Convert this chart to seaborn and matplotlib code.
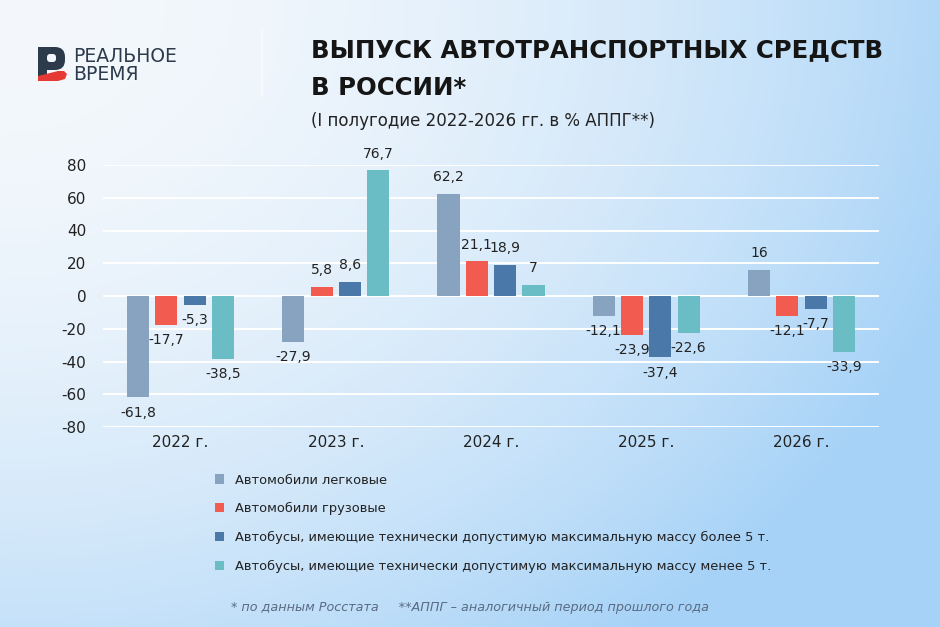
import numpy as np
import pandas as pd
import seaborn as sns
import matplotlib.pyplot as plt
from matplotlib.patches import Patch, Rectangle, FancyBboxPatch, Polygon

years = ["2022 г.", "2023 г.", "2024 г.", "2025 г.", "2026 г."]
cars = [-61.8, -27.9, 62.2, -12.1, 16]
trucks = [-17.7, 5.8, 21.1, -23.9, -12.1]
buses_big = [-5.3, 8.6, 18.9, -37.4, -7.7]
buses_small = [-38.5, 76.7, 7, -22.6, -33.9]

series = ["Автомобили легковые",
          "Автомобили грузовые",
          "Автобусы, имеющие технически допустимую максимальную массу более 5 т.",
          "Автобусы, имеющие технически допустимую максимальную массу менее 5 т."]
colors = ["#87A3BF", "#F25C50", "#4A78A8", "#6ABDC5"]

df = pd.DataFrame({
    "year": years * 4,
    "value": cars + trucks + buses_big + buses_small,
    "series": [s for s in series for _ in years],
})

sns.set_theme(style="white")
plt.rcParams["font.family"] = ["DejaVu Sans"]
plt.rcParams["axes.unicode_minus"] = False

W, H = 940, 627
fig = plt.figure(figsize=(W / 100, H / 100), dpi=100)

# background gradient
bg = fig.add_axes([0, 0, 1, 1], zorder=-10)
gx, gy = np.meshgrid(np.linspace(0, 1, 300), np.linspace(0, 1, 200))
t = np.clip(0.85 * gx ** 2 + 0.59 * gy ** 2, 0, 1)
c0 = np.array([0xF4, 0xF8, 0xFC]) / 255
c1 = np.array([0xA6, 0xD2, 0xF7]) / 255
img = c0[None, None, :] * (1 - t[..., None]) + c1[None, None, :] * t[..., None]
bg.imshow(img, aspect="auto", extent=[0, W, H, 0])
bg.set_xlim(0, W)
bg.set_ylim(H, 0)
bg.axis("off")

ax = fig.add_axes([103 / W, 1 - 427 / H, (879 - 103) / W, (427 - 165) / H])
ax.patch.set_alpha(0)

sns.barplot(data=df, x="year", y="value", hue="series", palette=colors,
            saturation=1, width=0.73, gap=0.22, linewidth=0,
            legend=False, ax=ax, zorder=3)

for cont in ax.containers:
    for bar in cont:
        v = bar.get_height()
        txt = f"{v:g}".replace(".", ",")
        x = bar.get_x() + bar.get_width() / 2
        if v >= 0:
            ax.annotate(txt, (x, v), xytext=(0, 7), textcoords="offset points",
                        ha="center", va="bottom", fontsize=10, color="#222222")
        else:
            ax.annotate(txt, (x, v), xytext=(0, -6), textcoords="offset points",
                        ha="center", va="top", fontsize=10, color="#222222")

ax.set_ylim(-80, 80)
ax.set_xlim(-0.5, 4.5)
ax.set_yticks(range(-80, 81, 20))
ax.yaxis.grid(True, color="white", linewidth=1.4, zorder=0)
ax.set_axisbelow(True)
for s in ax.spines.values():
    s.set_visible(False)
ax.tick_params(axis="both", length=0, labelsize=11, labelcolor="#222222")
ax.tick_params(axis="y", pad=12)
ax.tick_params(axis="x", pad=6)
ax.set_xlabel("")
ax.set_ylabel("")

handles = [Patch(facecolor=c, edgecolor="none", label=s) for c, s in zip(colors, series)]
fig.legend(handles=handles, loc="upper left", bbox_to_anchor=(208 / W, 1 - 467 / H),
           frameon=False, fontsize=9.4, handlelength=0.7, handleheight=0.7,
           handletextpad=0.9, labelspacing=1.2, borderpad=0, labelcolor="#222222")

# titles
fig.text(311 / W, 1 - 50 / H, "ВЫПУСК АВТОТРАНСПОРТНЫХ СРЕДСТВ", fontsize=17.6,
         fontweight="bold", color="#151515", va="center", ha="left")
fig.text(311 / W, 1 - 88 / H, "В РОССИИ*", fontsize=17.6,
         fontweight="bold", color="#151515", va="center", ha="left")
fig.text(311 / W, 1 - 121 / H, "(I полугодие 2022-2026 гг. в % АППГ**)", fontsize=12,
         color="#222222", va="center", ha="left")

fig.text(470 / W, 1 - 607 / H,
         "* по данным Росстата     **АППГ – аналогичный период прошлого года",
         fontsize=9.2, style="italic", color="#5A6B82", ha="center", va="center",
         family=["Liberation Sans Narrow", "DejaVu Sans"])

# logo
navy = "#2C3A4C"
bg.add_patch(FancyBboxPatch((38, 47), 27, 23, boxstyle="round,pad=0,rounding_size=10",
                            facecolor=navy, edgecolor="none"))
bg.add_patch(Rectangle((38, 47), 9, 29, facecolor=navy, edgecolor="none"))
bg.add_patch(FancyBboxPatch((47, 54), 9, 8, boxstyle="round,pad=0,rounding_size=3",
                            facecolor="#F1F6FC", edgecolor="none"))
bg.add_patch(Polygon([(38, 76), (58, 71), (64, 71), (67, 74), (65, 79), (58, 81), (38, 81)],
                     closed=True, facecolor="#E53935", edgecolor="none"))
bg.text(73, 56, "РЕАЛЬНОЕ", fontsize=13.5, color=navy, va="center", ha="left")
bg.text(73, 75, "ВРЕМЯ", fontsize=13.5, color=navy, va="center", ha="left")
bg.plot([262, 262], [30, 97], color="white", alpha=0.7, linewidth=1.2)

fig.savefig("out.png", dpi=100)
